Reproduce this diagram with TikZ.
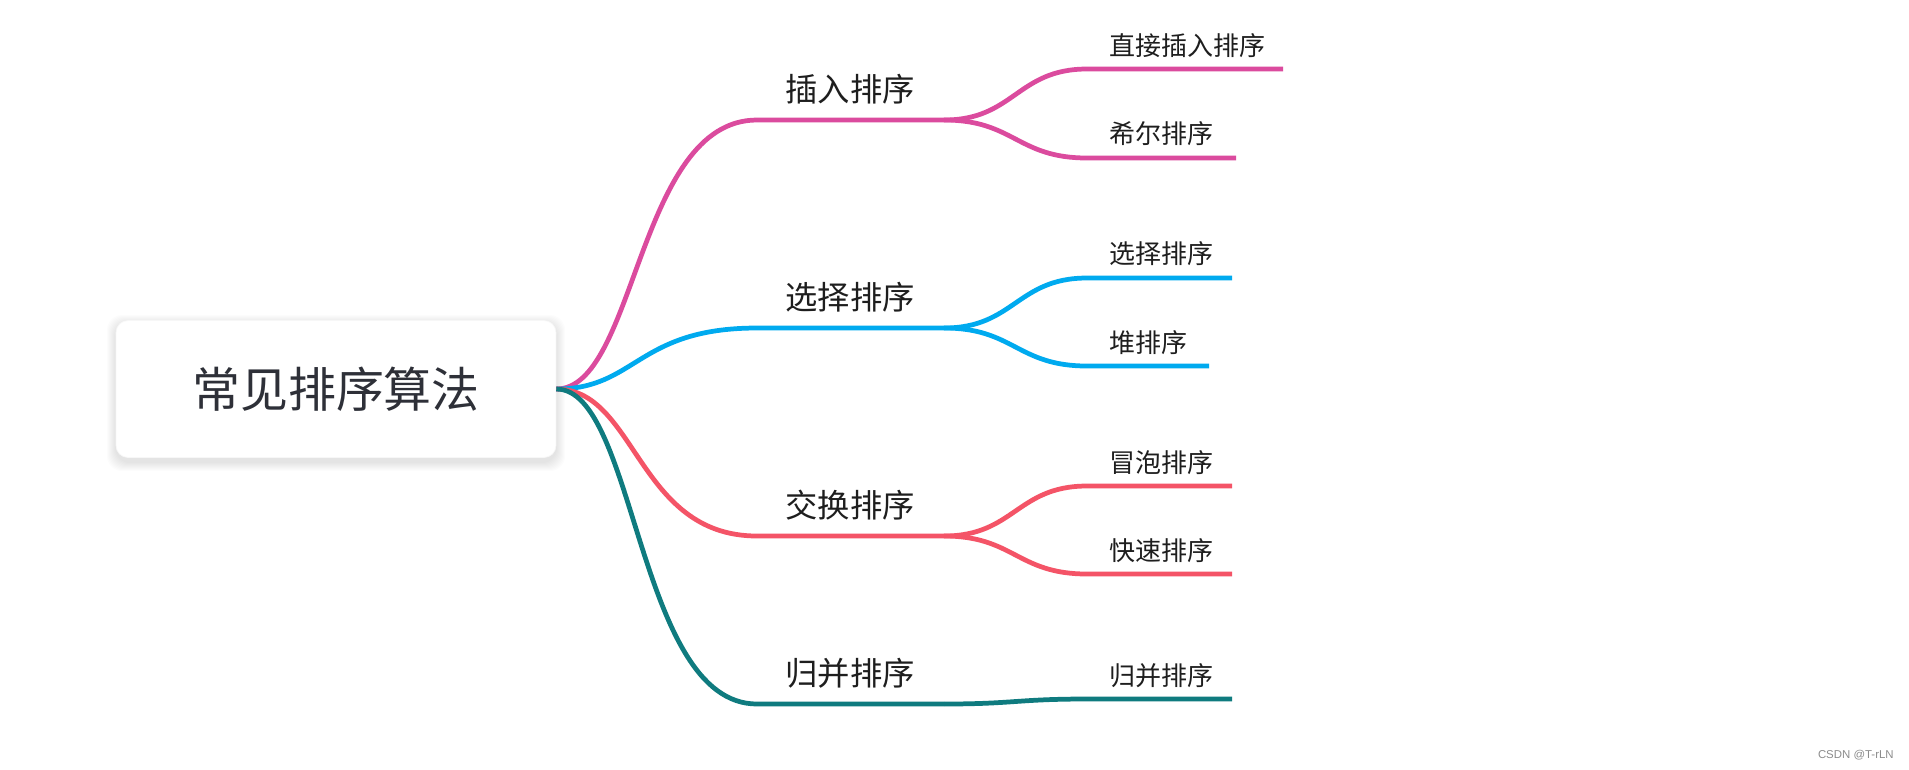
\documentclass[tikz,border=0pt]{standalone}
\usepackage{fontspec}
\setmainfont{Noto Sans CJK SC}
\newfontfamily\marksans{Liberation Sans}
\definecolor{insertpink}{HTML}{DB4B9E}
\definecolor{selectblue}{HTML}{00AAEF}
\definecolor{swapred}{HTML}{F45467}
\definecolor{mergeteal}{HTML}{0F7B7F}
\definecolor{roottext}{HTML}{2E3038}
\definecolor{labeltext}{HTML}{1E1E1E}
\tikzset{
  rootbox/.style={draw=black!3, fill=white, rounded corners=0.24cm,
    minimum width=8.8cm, minimum height=2.74cm, text=roottext,
    font=\fontsize{27.3}{30}\selectfont},
  softshadow/.style={fill=black, opacity=0.011, rounded corners=0.3cm},
  mainlabel/.style={text=labeltext, inner sep=0pt, font=\fontsize{18.4}{20}\selectfont},
  sublabel/.style={text=labeltext, inner sep=0pt, anchor=west, font=\fontsize{14.8}{17}\selectfont},
  branchline/.style={line width=2.7pt},
}
\begin{document}
\begin{tikzpicture}[x=0.02cm,y=-0.02cm]
\useasboundingbox[fill=white] (0,0) rectangle (1909,769);
% soft shadow under the root box
\foreach \g in {1,...,9}
  \fill[softshadow] (116-\g,324-\g) rectangle (556+\g,462+\g);
\node[rootbox] (root) at (336,389) {常见排序算法};
% first level
\coordinate (ins-a) at (757,120);
\coordinate (ins-b) at (944,120);
\coordinate (sel-a) at (757,328);
\coordinate (sel-b) at (944,328);
\coordinate (swp-a) at (757,536);
\coordinate (swp-b) at (944,536);
\coordinate (mrg-a) at (757,704);
\coordinate (mrg-b) at (944,704);
\node[mainlabel] (ins) at (850,89) {插入排序};
\node[mainlabel] (sel) at (850,297) {选择排序};
\node[mainlabel] (swp) at (850,505) {交换排序};
\node[mainlabel] (mrg) at (850,673) {归并排序};
\draw[branchline,insertpink] (root.east) .. controls +(80,0) and +(-120,0) .. (ins-a) -- (ins-b);
\draw[branchline,selectblue] (root.east) .. controls +(80,0) and +(-120,0) .. (sel-a) -- (sel-b);
\draw[branchline,swapred] (root.east) .. controls +(80,0) and +(-120,0) .. (swp-a) -- (swp-b);
\draw[branchline,mergeteal] (root.east) .. controls +(80,0) and +(-120,0) .. (mrg-a) -- (mrg-b);
% second level
\coordinate (zhijie-a) at (1087,69);
\coordinate (zhijie-b) at (1283,69);
\coordinate (xier-a) at (1087,158);
\coordinate (xier-b) at (1236,158);
\coordinate (xuanze-a) at (1087,278);
\coordinate (xuanze-b) at (1232,278);
\coordinate (dui-a) at (1087,366);
\coordinate (dui-b) at (1209,366);
\coordinate (maopao-a) at (1087,486);
\coordinate (maopao-b) at (1232,486);
\coordinate (kuaisu-a) at (1087,574);
\coordinate (kuaisu-b) at (1232,574);
\coordinate (guibing-a) at (1087,699);
\coordinate (guibing-b) at (1232,699);
\node[sublabel] (zhijie) at (1109,46) {直接插入排序};
\node[sublabel] (xier) at (1109,134) {希尔排序};
\node[sublabel] (xuanze) at (1109,254) {选择排序};
\node[sublabel] (dui) at (1109,343) {堆排序};
\node[sublabel] (maopao) at (1109,463) {冒泡排序};
\node[sublabel] (kuaisu) at (1109,551) {快速排序};
\node[sublabel] (guibing) at (1109,676) {归并排序};
\draw[branchline,insertpink] (ins-b) .. controls +(70,0) and +(-70,0) .. (zhijie-a) -- (zhijie-b);
\draw[branchline,insertpink] (ins-b) .. controls +(70,0) and +(-70,0) .. (xier-a) -- (xier-b);
\draw[branchline,selectblue] (sel-b) .. controls +(70,0) and +(-70,0) .. (xuanze-a) -- (xuanze-b);
\draw[branchline,selectblue] (sel-b) .. controls +(70,0) and +(-70,0) .. (dui-a) -- (dui-b);
\draw[branchline,swapred] (swp-b) .. controls +(70,0) and +(-70,0) .. (maopao-a) -- (maopao-b);
\draw[branchline,swapred] (swp-b) .. controls +(70,0) and +(-70,0) .. (kuaisu-a) -- (kuaisu-b);
\draw[branchline,mergeteal] (mrg-b) .. controls +(70,0) and +(-70,0) .. (guibing-a) -- (guibing-b);
\node[anchor=east, text=black!45, inner sep=0pt, font=\marksans\fontsize{6.5}{8}\selectfont] (mark) at (1894,755) {CSDN @T-rLN};
\end{tikzpicture}
\end{document}
